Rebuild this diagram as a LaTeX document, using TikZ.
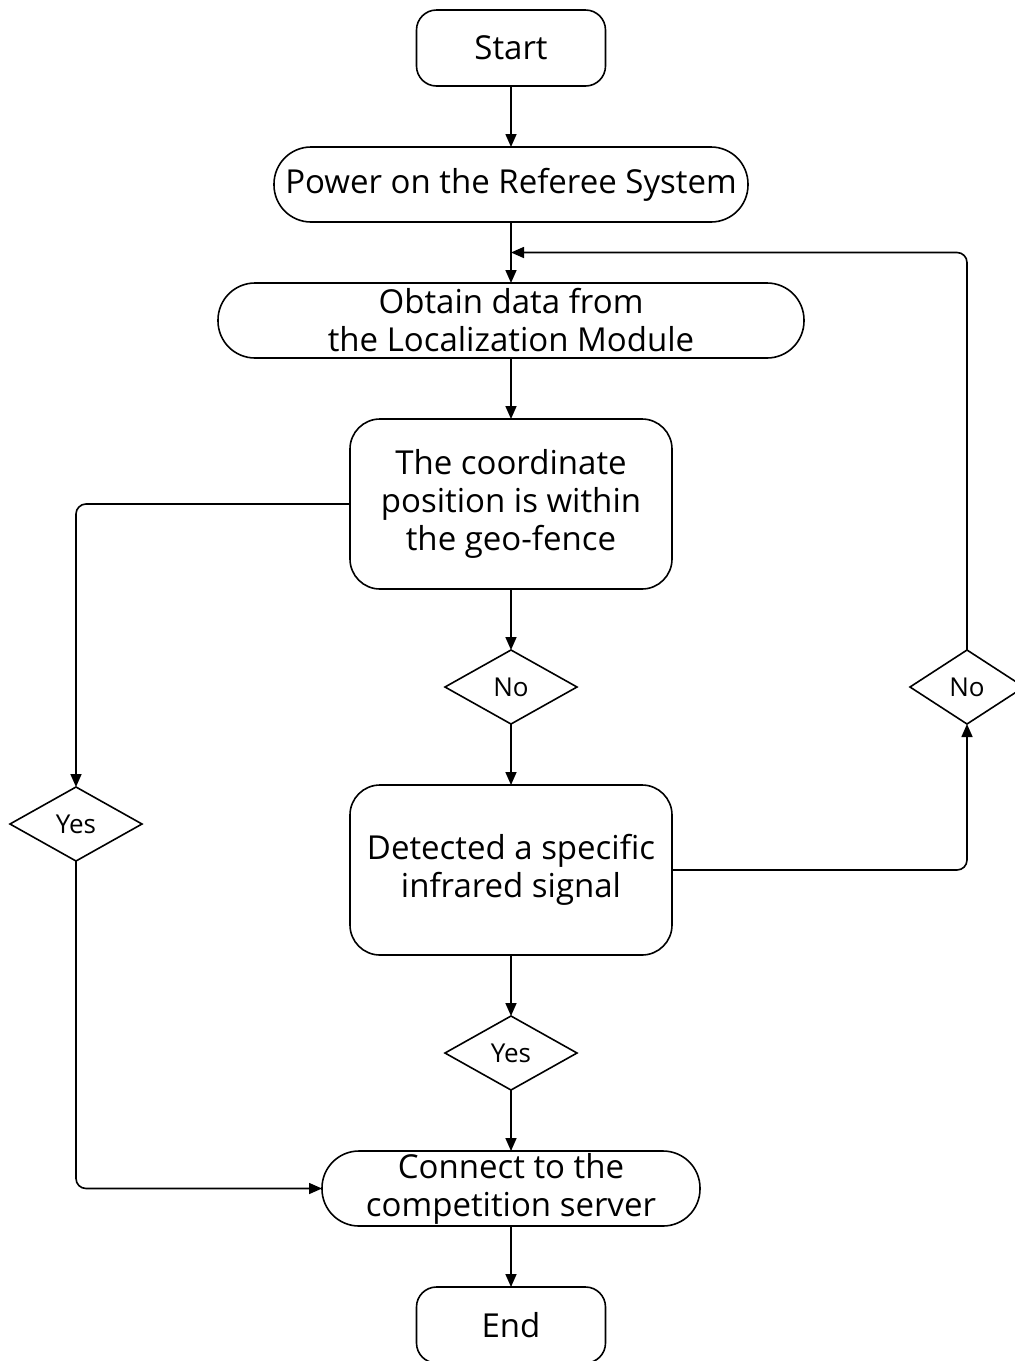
\documentclass[tikz,border=0pt]{standalone}
\usepackage{fontspec}
\setmainfont{Open Sans}
\usepackage{xcolor}
\usetikzlibrary{shapes.geometric,arrows.meta,positioning,calc}

\begin{document}
\begin{tikzpicture}[
    x=1pt, y=-1pt,
    node distance=61pt,
    every node/.style={line width=1.6pt, inner sep=0pt, outer sep=0pt},
    term/.style={draw, rounded corners=20pt, minimum width=189pt, minimum height=76pt,
                 font=\fontsize{33}{38}\selectfont},
    pill/.style={draw, rounded corners=37pt, minimum height=75pt, align=center,
                 font=\fontsize{33}{38}\selectfont},
    proc/.style={draw, rounded corners=30pt, minimum width=322pt, minimum height=170pt,
                 align=center, font=\fontsize{33}{38}\selectfont},
    cond/.style={draw, diamond, minimum width=132pt, minimum height=74pt,
                 font=\fontsize{26}{30}\selectfont},
    arr/.style={-{Triangle[length=13pt,width=11pt]}, line width=1.6pt, rounded corners=10pt}
]
\useasboundingbox (0,0) rectangle (1015,1361);
% main column
\node[term] (start) at (511,48) {Start};
\node[pill, minimum width=474pt, below=of start] (power) {Power on the Referee System};
\node[pill, minimum width=586pt, below=of power] (obtain) {Obtain data from\\the Localization Module};
\node[proc, below=of obtain] (geo) {The coordinate\\position is within\\the geo-fence};
\node[cond, below=of geo] (no) {No};
\node[proc, below=of no] (ir) {Detected a specific\\infrared signal};
\node[cond, below=of ir] (yes) {Yes};
\node[pill, minimum width=378pt, below=of yes] (server) {Connect to the\\competition server};
\node[term, below=of server] (end) {End};
% side branches
\node[cond] (yesleft) at (76,824) {Yes};
\node[cond, minimum width=114pt] (noright) at (967,687) {No};
\coordinate (loop) at ($(power.south)!0.5!(obtain.north)$);

\draw[arr] (start) -- (power);
\draw[arr] (power) -- (obtain);
\draw[arr] (obtain) -- (geo);
\draw[arr] (geo) -- (no);
\draw[arr] (no) -- (ir);
\draw[arr] (ir) -- (yes);
\draw[arr] (yes) -- (server);
\draw[arr] (server) -- (end);
\draw[arr] (geo.west) -| (yesleft.north);
\draw[arr] (yesleft.south) |- (server.west);
\draw[arr] (ir.east) -| (noright.south);
\draw[arr] (noright.north) |- (loop);
\end{tikzpicture}
\end{document}
